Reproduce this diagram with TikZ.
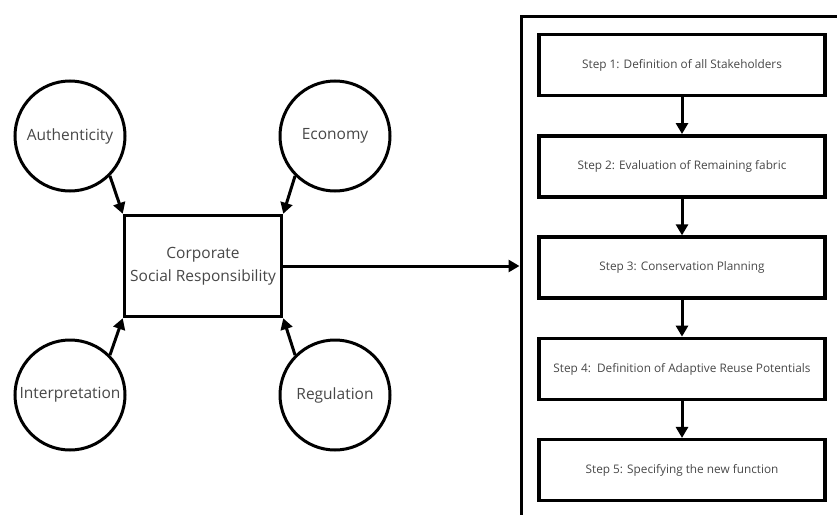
\documentclass[tikz,border=0pt]{standalone}
\usepackage{fontspec}
\setmainfont{Open Sans}
\usetikzlibrary{arrows.meta,positioning}
\tikzset{
  factor/.style  = {circle, draw=black, line width=3pt, minimum size=110pt,
                    inner sep=0pt, text=black!72,
                    font=\fontsize{15.5}{18}\selectfont},
  core/.style    = {rectangle, draw=black, line width=3.5pt, align=center,
                    minimum width=157pt, minimum height=101pt, inner sep=2pt,
                    text=black!72, font=\fontsize{15.5}{23}\selectfont},
  stepbox/.style = {rectangle, draw=black, line width=3.5pt,
                    minimum width=286pt, minimum height=61pt,
                    text=black!72, font=\fontsize{11.8}{14}\selectfont},
  frame/.style   = {rectangle, draw=black, line width=3pt,
                    minimum width=360pt, minimum height=540pt},
  arr/.style     = {-{Triangle[length=11pt,width=12pt]}, line width=3pt},
}
\begin{document}
\begin{tikzpicture}[x=1pt, y=-1pt, node distance=36.8pt]
\useasboundingbox (0,0) rectangle (837,514);

%% Influence factors
\node[core] (csr) at (203,266) {Corporate\\Social Responsibility};
\node[factor] (auth)   at (70,136)  {Authenticity};
\node[factor] (econ)   at (335,136) {Economy};
\node[factor] (interp) at (70,395)  {Interpretation};
\node[factor] (reg)    at (335,395) {Regulation};

\draw[arr] (auth.-45)  -- (csr.north west);
\draw[arr] (econ.-135) -- (csr.north east);
\draw[arr] (interp.45) -- (csr.south west);
\draw[arr] (reg.135)   -- (csr.south east);

%% Reuse steps
\node[frame, anchor=north west] (stages) at (519.5,14.5) {};
\node[stepbox] (s1) at (682,65) {Step 1: Definition of all Stakeholders};
\node[stepbox, below=of s1] (s2) {Step 2: Evaluation of Remaining fabric};
\node[stepbox, below=of s2] (s3) {Step 3: Conservation Planning};
\node[stepbox, below=of s3] (s4) {Step 4:\ \ Definition of Adaptive Reuse Potentials};
\node[stepbox, below=of s4] (s5) {Step 5: Specifying the new function};

\draw[arr] (s1) -- (s2);
\draw[arr] (s2) -- (s3);
\draw[arr] (s3) -- (s4);
\draw[arr] (s4) -- (s5);

\draw[arr] (csr.east) -- (csr.east -| stages.west);

\end{tikzpicture}
\end{document}
